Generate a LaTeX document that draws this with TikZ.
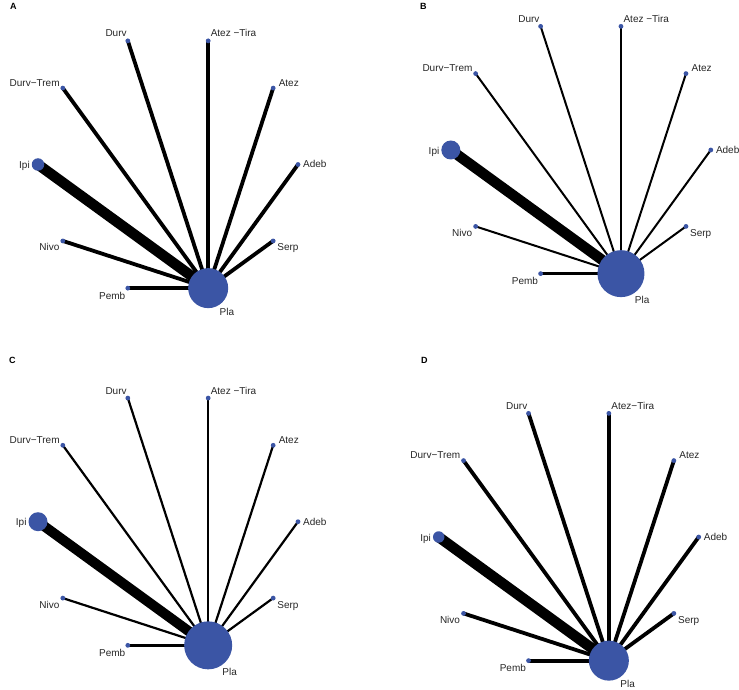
\documentclass[tikz,border=0pt]{standalone}
\usepackage{fontspec}
\setmainfont{Liberation Sans}
\pgfdeclarelayer{background}
\pgfsetlayers{background,main}
\definecolor{netblue}{HTML}{3B55A5}
\tikzset{
  dotnode/.style={circle, fill=netblue, inner sep=0pt, minimum size=4.8pt},
  bignode/.style={circle, fill=netblue, inner sep=0pt, minimum size=#1},
  lab/.style={font=\fontsize{10}{12}\selectfont, text=black!85, inner sep=0pt},
  panellab/.style={font=\bfseries\fontsize{9}{11}\selectfont, inner sep=0pt, anchor=base west},
  netedge/.style={draw=black, line width=#1},
}
% #1 prefix, #2 cx, #3 cy, #4 Ipi diameter, #5 Pla diameter,
% #6 Ipi edge width, #7 edge width, #8 Pemb edge width, #9 Atez-Tira text
\newcommand\netpanel[9]{%
\begin{scope}[shift={(#2,#3)}]
  \node[bignode=#5] (#1pla) at (72:130) {};
  \node[bignode=#4] (#1ipi) at (180:130) {};
  \node[dotnode] (#1adeb) at (0:130) {};
  \node[dotnode] (#1atez) at (-36:130) {};
  \node[dotnode] (#1tira) at (-72:130) {};
  \node[dotnode] (#1durv) at (-108:130) {};
  \node[dotnode] (#1trem) at (-144:130) {};
  \node[dotnode] (#1nivo) at (144:130) {};
  \node[dotnode] (#1pemb) at (108:130) {};
  \node[dotnode] (#1serp) at (36:130) {};
  \begin{pgfonlayer}{background}
    \draw[netedge=#6] (#1pla.center) -- (#1ipi.center);
    \draw[netedge=#7] (#1pla.center) -- (#1adeb.center);
    \draw[netedge=#7] (#1pla.center) -- (#1atez.center);
    \draw[netedge=#7] (#1pla.center) -- (#1tira.center);
    \draw[netedge=#7] (#1pla.center) -- (#1durv.center);
    \draw[netedge=#7] (#1pla.center) -- (#1trem.center);
    \draw[netedge=#7] (#1pla.center) -- (#1nivo.center);
    \draw[netedge=#8] (#1pla.center) -- (#1pemb.center);
    \draw[netedge=#7] (#1pla.center) -- (#1serp.center);
  \end{pgfonlayer}
  \node[lab, anchor=base east] (#1ldurv) at ([shift={(-1,-4)}]#1durv.center) {Durv};
  \node[lab, anchor=base west] (#1ltira) at ([shift={(2.4,-4)}]#1tira.center) {#9};
  \node[lab, anchor=base east] (#1ltrem) at ([shift={(-3,-2)}]#1trem.center) {Durv−Trem};
  \node[lab, anchor=base west] (#1latez) at ([shift={(5.4,-2)}]#1atez.center) {Atez};
  \node[lab, anchor=base east] (#1lipi) at ([shift={(-1.6,4)}]#1ipi.west) {Ipi};
  \node[lab, anchor=base west] (#1ladeb) at ([shift={(5,3.4)}]#1adeb.center) {Adeb};
  \node[lab, anchor=base east] (#1lnivo) at ([shift={(-3.3,10)}]#1nivo.center) {Nivo};
  \node[lab, anchor=base west] (#1lserp) at ([shift={(4,10)}]#1serp.center) {Serp};
  \node[lab, anchor=base east] (#1lpemb) at ([shift={(-2.4,11)}]#1pemb.center) {Pemb};
  \node[lab, anchor=base west] (#1lpla) at ([shift={(-3,12.8)}]#1pla.south east) {Pla};
\end{scope}}
\begin{document}
\begin{tikzpicture}[x=1pt, y=-1pt]
  \useasboundingbox (0,0) rectangle (739,690);
  \netpanel{a}{168}{164.5}{12.5pt}{40pt}{10.5pt}{3.8pt}{3.9pt}{Atez −Tira}
  \netpanel{b}{580.8}{150}{19pt}{47pt}{10.5pt}{2pt}{2.4pt}{Atez −Tira}
  \netpanel{c}{168}{521.7}{19pt}{48pt}{10pt}{2.2pt}{2.6pt}{Atez −Tira}
  \netpanel{d}{568.7}{537}{11.5pt}{40pt}{10.5pt}{3.8pt}{3.9pt}{Atez−Tira}
  \node[panellab] (pa) at (10,10) {A};
  \node[panellab] (pb) at (420,9.3) {B};
  \node[panellab] (pc) at (9,363.3) {C};
  \node[panellab] (pd) at (421,363.3) {D};
\end{tikzpicture}
\end{document}
